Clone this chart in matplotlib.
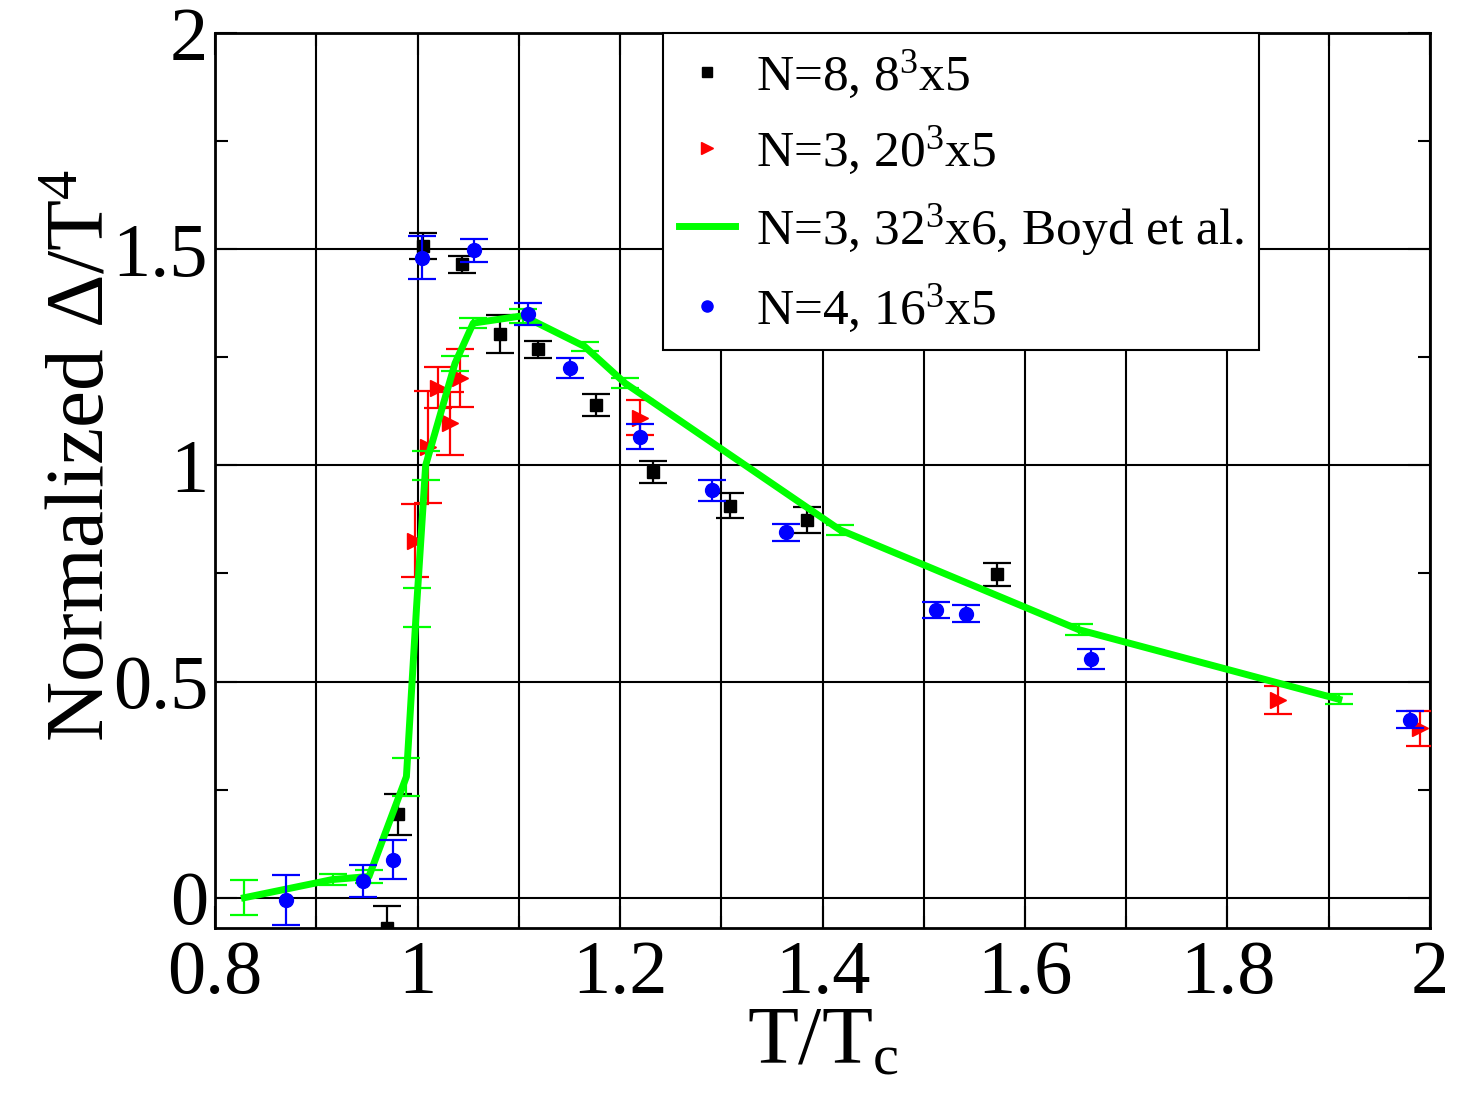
import numpy as np
import matplotlib
matplotlib.use("Agg")
import matplotlib.pyplot as plt
from matplotlib.ticker import MultipleLocator
from matplotlib.lines import Line2D

plt.rcParams['font.family'] = ['Liberation Serif', 'DejaVu Serif']
plt.rcParams['mathtext.fontset'] = 'custom'
plt.rcParams['mathtext.rm'] = 'Liberation Serif'
plt.rcParams['mathtext.it'] = 'Liberation Serif:italic'

# N=8, 8^3x5 (black squares)
n8_x = [0.970, 0.981, 1.005, 1.044, 1.081, 1.119, 1.176, 1.233, 1.309, 1.385, 1.572]
n8_y = [-0.070, 0.193, 1.508, 1.465, 1.304, 1.268, 1.140, 0.984, 0.907, 0.874, 0.748]
n8_err = [0.05, 0.047, 0.03, 0.02, 0.044, 0.019, 0.025, 0.025, 0.028, 0.03, 0.027]

# N=3, 20^3x5 (red triangles)
n3_x = [0.9975, 1.0107, 1.0206, 1.032, 1.042, 1.220, 1.850, 1.990]
n3_y = [0.826, 1.042, 1.180, 1.097, 1.201, 1.110, 0.458, 0.392]
n3_err = [0.085, 0.13, 0.048, 0.073, 0.067, 0.04, 0.032, 0.04]

# N=3, 32^3x6, Boyd et al. (green line)
boyd_x = [0.829, 0.916, 0.952, 0.989, 0.999, 1.008, 1.037, 1.055, 1.104, 1.165, 1.205, 1.417, 1.653, 1.910]
boyd_y = [0.0, 0.042, 0.049, 0.280, 0.672, 1.0, 1.236, 1.329, 1.346, 1.275, 1.190, 0.851, 0.620, 0.459]
boyd_err = [0.04, 0.013, 0.014, 0.044, 0.045, 0.033, 0.017, 0.011, 0.016, 0.010, 0.011, 0.011, 0.012, 0.012]

# N=4, 16^3x5 (blue circles)
n4_x = [0.870, 0.946, 0.976, 1.004, 1.056, 1.109, 1.151, 1.220, 1.291, 1.364, 1.512, 1.542, 1.665, 1.980]
n4_y = [-0.006, 0.038, 0.088, 1.480, 1.497, 1.350, 1.226, 1.066, 0.942, 0.845, 0.666, 0.657, 0.552, 0.412]
n4_err = [0.058, 0.037, 0.045, 0.05, 0.027, 0.025, 0.023, 0.029, 0.025, 0.02, 0.018, 0.02, 0.023, 0.019]

labels = [r'N=8, $\mathrm{8}^\mathrm{3}$x5',
          r'N=3, $\mathrm{20}^\mathrm{3}$x5',
          r'N=3, $\mathrm{32}^\mathrm{3}$x6, Boyd et al.',
          r'N=4, $\mathrm{16}^\mathrm{3}$x5']
green = '#00ff00'

fig = plt.figure(figsize=(14.65, 10.93), dpi=100)
ax = fig.add_axes([0.1468, 0.151, 0.8293, 0.8188])

eb = dict(capsize=10, elinewidth=1.6, capthick=1.6, linestyle='none')
ax.errorbar(n8_x, n8_y, yerr=n8_err, marker='s', ms=9, color='black', zorder=3, **eb)
ax.errorbar(n3_x, n3_y, yerr=n3_err, marker='>', ms=11, color='red', zorder=4, **eb)
ax.errorbar(boyd_x, boyd_y, yerr=boyd_err, color=green, lw=5, elinewidth=1.6,
            capthick=1.6, capsize=10, zorder=5)
ax.errorbar(n4_x, n4_y, yerr=n4_err, marker='o', ms=10, color='blue', zorder=6, **eb)

ax.set_xlim(0.8, 2.0)
ax.set_ylim(-0.07, 2.0)
ax.xaxis.set_minor_locator(MultipleLocator(0.1))
ax.yaxis.set_minor_locator(MultipleLocator(0.25))
ax.set_xticks([0.8, 1.0, 1.2, 1.4, 1.6, 1.8, 2.0])
ax.set_xticklabels(['0.8', '1', '1.2', '1.4', '1.6', '1.8', '2'])
ax.set_yticks([0, 0.5, 1.0, 1.5, 2.0])
ax.set_yticklabels(['0', '0.5', '1', '1.5', '2'])

ax.grid(True, which='major', axis='both', color='black', lw=1.5, zorder=1)
ax.grid(True, which='minor', axis='x', color='black', lw=1.5, zorder=1)
ax.set_axisbelow(True)
for s in ax.spines.values():
    s.set_linewidth(2)
ax.tick_params(which='both', direction='in', top=True, right=True, width=1.5,
               labelsize=55)
ax.tick_params(axis='x', pad=8.5)
ax.tick_params(axis='y', pad=5)
ax.tick_params(which='major', length=16)
ax.tick_params(which='minor', length=9)

ax.set_xlabel(r'T/$\mathrm{T}_\mathrm{c}$', fontsize=60, labelpad=-2)
ax.set_ylabel(r'Normalized Δ/$\mathrm{T}^\mathrm{4}$', fontsize=60)
ax.yaxis.set_label_coords(-0.077, 0.528)

handles = [Line2D([], [], ls='none', marker='s', ms=7, color='black'),
           Line2D([], [], ls='none', marker='>', ms=8, color='red'),
           Line2D([], [], color=green, lw=5),
           Line2D([], [], ls='none', marker='o', ms=8, color='blue')]
leg = ax.legend(handles, labels, loc='upper left', bbox_to_anchor=(0.369, 1.0),
                fontsize=37, frameon=True, fancybox=False, edgecolor='black',
                framealpha=1, borderpad=0.3, labelspacing=0.48, handlelength=1.1,
                handletextpad=0.4, borderaxespad=0)
leg.get_frame().set_linewidth(1.5)
leg.set_zorder(10)

fig.savefig('out.png', dpi=100)
